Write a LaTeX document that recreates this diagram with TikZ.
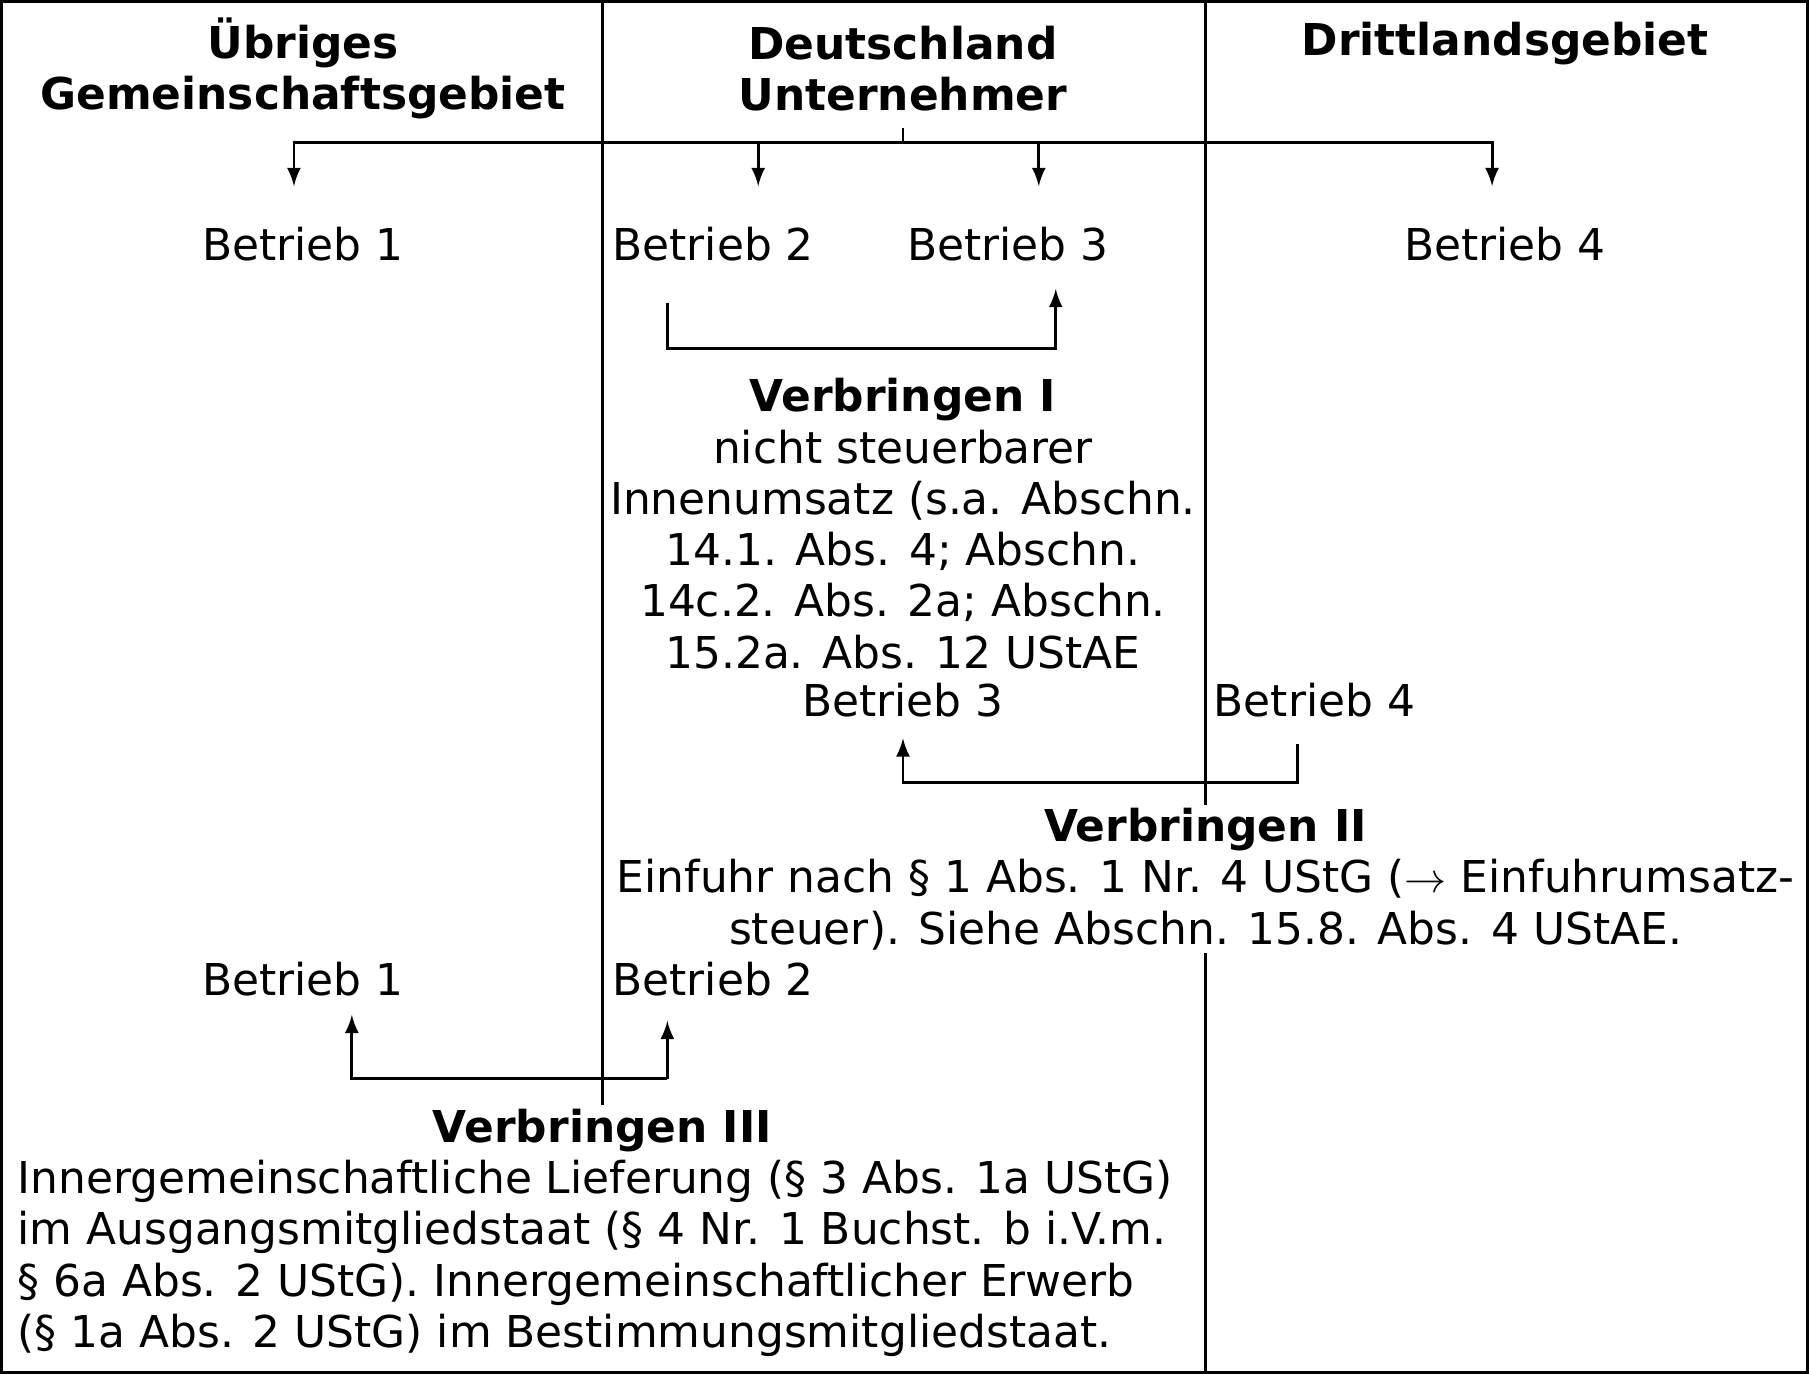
\documentclass[tikz,border=0pt]{standalone}
\usepackage{fontspec}
\setmainfont{DejaVu Sans}
\begin{document}
\begin{tikzpicture}[x=0.01cm,y=-0.01cm]

			\tikzstyle{head}=[font=\fontsize{12.5}{14.6}\selectfont\bfseries,
				align=center]
			\tikzstyle{plant}=[font=\fontsize{12.5}{14.6}\selectfont]
			\tikzstyle{note}=[font=\fontsize{12.5}{14.6}\selectfont,
				fill=white,inner sep=1pt]
			\tikzstyle{link}=[-latex,line width=0.8pt]

			\draw[line width=0.8pt] (0,0) rectangle (1809,1373);
			\draw[line width=0.6pt] (602,0) -- (602,1105);
			\draw[line width=0.6pt] (1206,0) -- (1206,1373);

			\node[head]	(gem)	at (302,67)	{Übriges\\Gemeinschaftsgebiet};
			\node[head]	(de)	at (903,67)	{Deutschland\\Unternehmer};
			\node[head]	(dritt)	at (1506,42)	{Drittlandsgebiet};

			\node[plant]	(b1)	at (302,243)	{Betrieb 1};
			\node[plant]	(b2)	at (713,243)	{Betrieb 2};
			\node[plant]	(b3)	at (1008,243)	{Betrieb 3};
			\node[plant]	(b4)	at (1506,243)	{Betrieb 4};

			\coordinate (root) at (903,127);
			\draw[line width=0.8pt] (root) -- (903,141);
			\draw[link] (903,141) -| (293,185);
			\draw[link] (903,141) -| (1493,185);
			\draw[link] (758,141) -- (758,185);
			\draw[link] (1039,141) -- (1039,185);

			% Verbringen I
			\draw[link] (667,302) |- (1056,348) -- (1056,288);
			\node[note,align=center]	(v1)	at (903,523)
				{\textbf{Verbringen I}\\nicht steuerbarer\\Innenumsatz (s.a. Abschn.\\14.1. Abs. 4; Abschn.\\14c.2. Abs. 2a; Abschn.\\15.2a. Abs. 12 UStAE};
			\node[plant]	(b3b)	at (903,700)	{Betrieb 3};
			\node[plant]	(b4b)	at (1315,700)	{Betrieb 4};

			% Verbringen II
			\draw[link] (1298,744) |- (903,782) -- (903,738);
			\node[note,align=center]	(v2)	at (1206,879)
				{\textbf{Verbringen II}\\Einfuhr nach § 1 Abs. 1 Nr. 4 UStG ($\rightarrow$ Einfuhrumsatz-\\steuer). Siehe Abschn. 15.8. Abs. 4 UStAE.};

			% Verbringen III
			\node[plant]	(b1b)	at (302,979)	{Betrieb 1};
			\node[plant]	(b2b)	at (713,979)	{Betrieb 2};
			\draw[link] (667,1079) -- (667,1021);
			\draw[link] (667,1079) -| (351,1015);
			\node[head]	(v3)	at (602,1131)	{Verbringen III};
			\node[note,align=left,anchor=west]	(v3t)	at (12,1259)
				{Innergemeinschaftliche Lieferung (§ 3 Abs. 1a UStG)\\im Ausgangsmitgliedstaat (§ 4 Nr. 1 Buchst. b i.V.m.\\§ 6a Abs. 2 UStG). Innergemeinschaftlicher Erwerb\\(§ 1a Abs. 2 UStG) im Bestimmungsmitgliedstaat.};

		\end{tikzpicture}
\end{document}
